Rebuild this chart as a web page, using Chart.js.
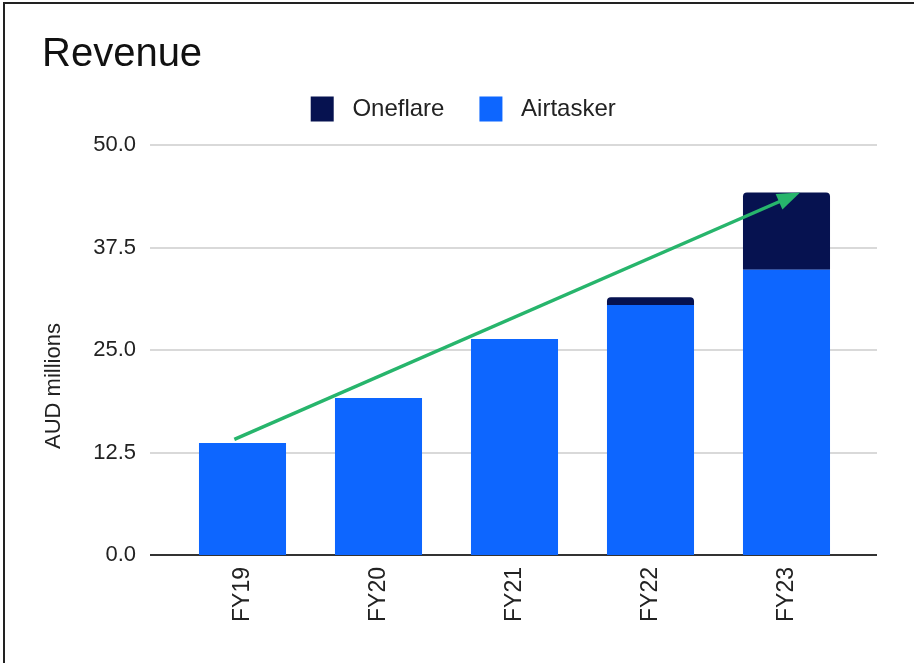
<!DOCTYPE html>
<html>
<head>
<meta charset="utf-8">
<script src="https://cdnjs.cloudflare.com/ajax/libs/Chart.js/4.4.0/chart.umd.min.js"></script>
<style>
  html, body { margin: 0; padding: 0; background: #fff; }
  #wrap { position: relative; width: 914px; height: 663px; }
  #frame { position: absolute; left: 3px; top: 2px; right: 0; bottom: 0;
           border-left: 2px solid #222; border-top: 2px solid #222; pointer-events: none; }
  canvas { position: absolute; left: 0; top: 0; }
</style>
</head>
<body>
<div id="wrap">
  <canvas id="chart" width="914" height="663"></canvas>
  <div id="frame"></div>
</div>
<script>
const categories = ['FY19', 'FY20', 'FY21', 'FY22', 'FY23']
const oneflare = [0, 0, 0, 0.95, 9.4]
const airtasker = [13.65, 19.15, 26.35, 30.5, 34.8]
const yTicks = [0, 12.5, 25, 37.5, 50]
// trend arrow, [category index, value]
const trendFrom = [-0.06, 14.1]
const trendTo = [4.1, 44.2]

const FONT = "'Liberation Sans', Arial, sans-serif"

const gridPlugin = {
  id: 'wideGrid',
  beforeDatasetsDraw(chart) {
    const y = chart.scales.y
    const ctx = chart.ctx
    const left = chart.chartArea.left - 24.5
    const right = chart.chartArea.right + 22.5
    ctx.save()
    yTicks.forEach(v => {
      const py = Math.round(y.getPixelForValue(v))
      ctx.beginPath()
      ctx.strokeStyle = v === 0 ? '#333333' : '#cccccc'
      ctx.lineWidth = v === 0 ? 2 : 1.5
      ctx.moveTo(left, py)
      ctx.lineTo(right, py)
      ctx.stroke()
    })
    ctx.restore()
  }
}

const arrowPlugin = {
  id: 'trendArrow',
  afterDatasetsDraw(chart) {
    const {x, y} = chart.scales
    const ctx = chart.ctx
    const x1 = x.getPixelForValue(trendFrom[0]), y1 = y.getPixelForValue(trendFrom[1])
    const x2 = x.getPixelForValue(trendTo[0]), y2 = y.getPixelForValue(trendTo[1])
    const a = Math.atan2(y2 - y1, x2 - x1)
    const headLen = 23, headW = 8.5
    const bx = x2 - headLen * Math.cos(a), by = y2 - headLen * Math.sin(a)
    ctx.save()
    ctx.strokeStyle = '#27b56c'
    ctx.fillStyle = '#27b56c'
    ctx.lineWidth = 3.5
    ctx.beginPath()
    ctx.moveTo(x1, y1)
    ctx.lineTo(bx + 2 * Math.cos(a), by + 2 * Math.sin(a))
    ctx.stroke()
    ctx.beginPath()
    ctx.moveTo(x2, y2)
    ctx.lineTo(bx + headW * Math.sin(a), by - headW * Math.cos(a))
    ctx.lineTo(bx - headW * Math.sin(a), by + headW * Math.cos(a))
    ctx.closePath()
    ctx.fill()
    ctx.restore()
  }
}

new Chart(document.getElementById('chart'), {
  type: 'bar',
  data: {
    labels: categories,
    datasets: [
      {
        label: 'Airtasker',
        data: airtasker,
        backgroundColor: '#0d66ff'
      },
      {
        label: 'Oneflare',
        data: oneflare,
        backgroundColor: '#061250',
        borderRadius: {topLeft: 4, topRight: 4, bottomLeft: 0, bottomRight: 0},
        borderSkipped: false
      }
    ]
  },
  options: {
    responsive: false,
    animation: false,
    barPercentage: 0.8,
    categoryPercentage: 0.8,
    layout: {padding: {left: 42, right: 29.5, top: 0, bottom: 0}},
    scales: {
      x: {
        stacked: true,
        grid: {display: false, drawTicks: false},
        border: {display: false},
        ticks: {
          color: '#222',
          font: {family: FONT, size: 23},
          maxRotation: 90, minRotation: 90,
          padding: 12
        },
        afterFit(s) { s.height = 108 }
      },
      y: {
        stacked: true,
        min: 0, max: 51.65,
        afterBuildTicks(s) { s.ticks = yTicks.map(v => ({value: v})) },
        grid: {display: false, drawTicks: false},
        border: {display: false},
        ticks: {
          color: '#222',
          font: {family: FONT, size: 22},
          padding: 38.5,
          callback: v => v.toFixed(1)
        },
        title: {
          display: true,
          // trailing spaces push the label down the axis, as in the source
          text: 'AUD millions' + '\u00a0'.repeat(14),
          color: '#222',
          font: {family: FONT, size: 22},
          padding: {top: -1, bottom: 0}
        },
        afterFit(s) { s.width = 132.5 }
      },
      // empty right-hand gutter
      yRight: {
        position: 'right',
        display: true,
        grid: {display: false, drawTicks: false},
        border: {display: false},
        ticks: {display: false},
        afterFit(s) { s.width = 30 }
      }
    },
    plugins: {
      title: {
        display: true,
        text: 'Revenue',
        align: 'start',
        color: '#111',
        font: {family: FONT, size: 40, weight: 'normal'},
        padding: {top: 31, bottom: -17.5}
      },
      legend: {
        position: 'top',
        reverse: true,
        labels: {
          color: '#222',
          font: {family: FONT, size: 24},
          boxWidth: 23,
          boxHeight: 25,
          padding: 35,
          generateLabels(chart) {
            const items = Chart.defaults.plugins.legend.labels.generateLabels(chart)
            items.forEach(it => { it.text = ' ' + it.text; it.lineWidth = 0 })
            return items
          }
        }
      },
      tooltip: {enabled: false}
    }
  },
  plugins: [gridPlugin, arrowPlugin]
})
</script>
</body>
</html>
